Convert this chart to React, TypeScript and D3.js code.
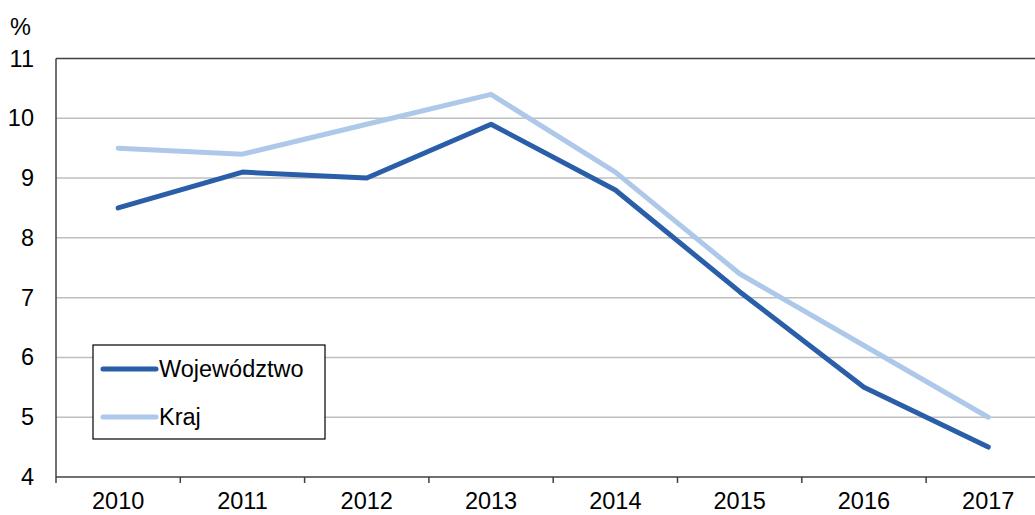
import { useEffect, useRef } from 'react';
import * as d3 from 'd3';

const years = ['2010', '2011', '2012', '2013', '2014', '2015', '2016', '2017'];
const wojewodztwo = [8.5, 9.1, 9.0, 9.9, 8.8, 7.1, 5.5, 4.5];
const kraj = [9.5, 9.4, 9.9, 10.4, 9.1, 7.4, 6.2, 5.0];
const yTicks = [4, 5, 6, 7, 8, 9, 10, 11];
const seriesNames = ['Województwo', 'Kraj'];
const seriesColors = ['#2a5ea8', '#aec8ea'];

const WIDTH = 1035;
const HEIGHT = 515;
const FONT = '"Liberation Sans", Arial, sans-serif';
const FS = '23.5px';

export default function App() {
  const ref = useRef<SVGSVGElement | null>(null);

  useEffect(() => {
    if (!ref.current) return;
    const svg = d3.select(ref.current);
    svg.selectAll('*').remove();

    const left = 56;
    const band = 124.3;
    const top = 58.5;
    const bottom = 477;

    const x = d3
      .scaleBand<string>()
      .domain(years)
      .range([left, left + band * years.length])
      .paddingInner(0)
      .paddingOuter(0);
    const y = d3.scaleLinear().domain([4, 11]).range([bottom, top]);
    const cx = (d: string) => (x(d) as number) + x.bandwidth() / 2;

    // gridlines
    svg
      .append('g')
      .selectAll('line')
      .data(yTicks.filter((t) => t > 4 && t < 11))
      .enter()
      .append('line')
      .attr('x1', left)
      .attr('x2', left + band * years.length)
      .attr('y1', (d) => y(d))
      .attr('y2', (d) => y(d))
      .attr('stroke', '#bfbfbf')
      .attr('stroke-width', 1.5);

    // plot frame (top, left, bottom)
    const frame = svg.append('g').attr('stroke', '#404040').attr('stroke-width', 1.5);
    frame.append('line').attr('x1', left).attr('x2', WIDTH + 20).attr('y1', top).attr('y2', top);
    frame.append('line').attr('x1', left).attr('x2', left).attr('y1', top).attr('y2', bottom);
    frame.append('line').attr('x1', left).attr('x2', WIDTH + 20).attr('y1', bottom).attr('y2', bottom);

    // x ticks at band edges
    svg
      .append('g')
      .selectAll('line')
      .data(years)
      .enter()
      .append('line')
      .attr('x1', (d) => x(d) as number)
      .attr('x2', (d) => x(d) as number)
      .attr('y1', bottom)
      .attr('y2', bottom + 6)
      .attr('stroke', '#404040')
      .attr('stroke-width', 1.5);

    // x labels
    svg
      .append('g')
      .selectAll('text')
      .data(years)
      .enter()
      .append('text')
      .attr('x', cx)
      .attr('y', 509)
      .attr('text-anchor', 'middle')
      .style('font-family', FONT)
      .style('font-size', FS)
      .style('fill', '#000')
      .text((d) => d);

    // y labels
    svg
      .append('g')
      .selectAll('text')
      .data(yTicks)
      .enter()
      .append('text')
      .attr('x', 34)
      .attr('y', (d) => y(d) + 8)
      .attr('text-anchor', 'end')
      .style('font-family', FONT)
      .style('font-size', FS)
      .style('fill', '#000')
      .text((d) => d);

    svg
      .append('text')
      .attr('x', 10)
      .attr('y', 35)
      .style('font-family', FONT)
      .style('font-size', FS)
      .style('fill', '#000')
      .text('%');

    // lines
    const line = d3
      .line<number>()
      .x((_, i) => cx(years[i]))
      .y((d) => y(d));

    [kraj, wojewodztwo].forEach((values, idx) => {
      const color = idx === 0 ? seriesColors[1] : seriesColors[0];
      svg
        .append('path')
        .datum(values)
        .attr('fill', 'none')
        .attr('stroke', color)
        .attr('stroke-width', 5)
        .attr('stroke-linecap', 'round')
        .attr('stroke-linejoin', 'round')
        .attr('d', line);
    });

    // legend
    const legend = svg.append('g');
    legend
      .append('rect')
      .attr('x', 93)
      .attr('y', 345)
      .attr('width', 232)
      .attr('height', 94)
      .attr('fill', '#fff')
      .attr('stroke', '#000')
      .attr('stroke-width', 1.2);

    seriesNames.forEach((name, i) => {
      const ly = 369 + i * 48;
      legend
        .append('line')
        .attr('x1', 103)
        .attr('x2', 156)
        .attr('y1', ly)
        .attr('y2', ly)
        .attr('stroke', seriesColors[i])
        .attr('stroke-width', 5)
        .attr('stroke-linecap', 'round');
      legend
        .append('text')
        .attr('x', 159)
        .attr('y', ly + 8)
        .style('font-family', FONT)
        .style('font-size', FS)
        .style('fill', '#000')
        .text(name);
    });
  }, []);

  return (
    <svg
      ref={ref}
      width={WIDTH}
      height={HEIGHT}
      style={{ position: 'absolute', left: 0, top: 0, background: '#fff' }}
    />
  );
}
